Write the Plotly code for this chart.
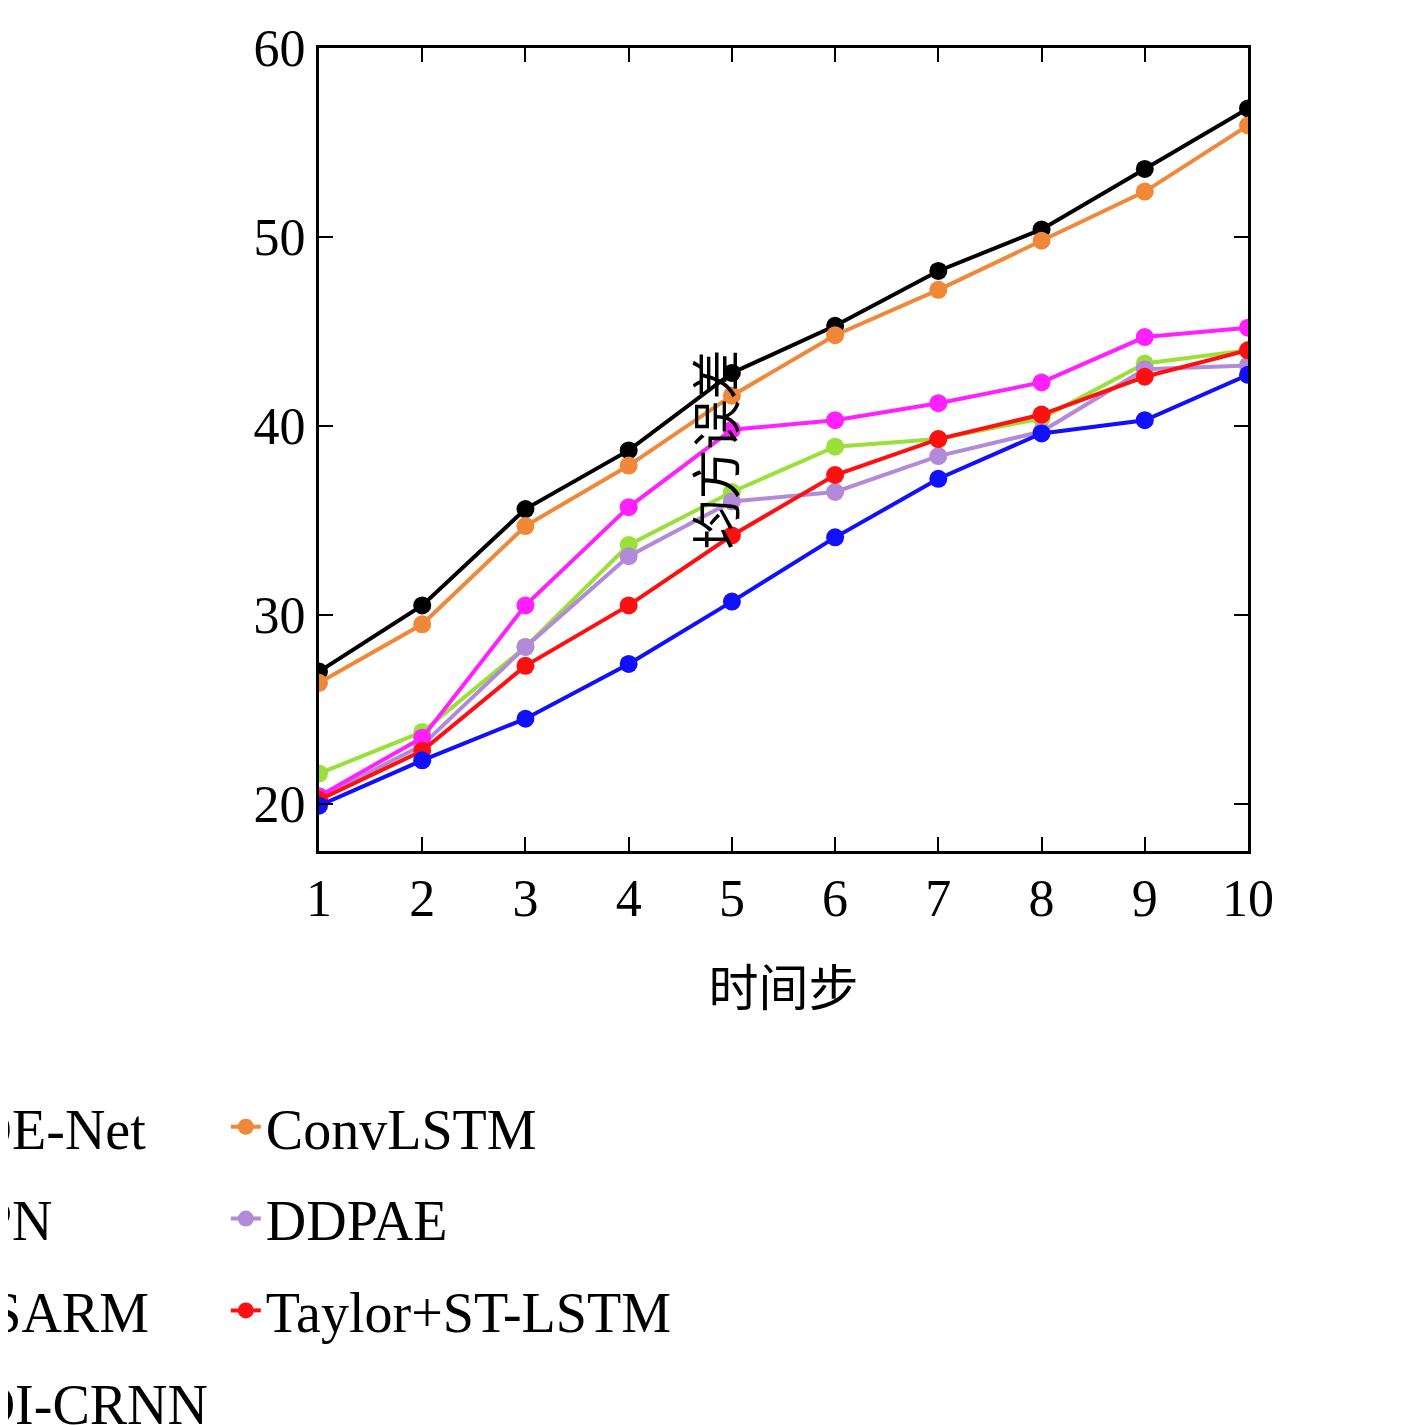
import plotly.graph_objects as go

steps = list(range(1, 11))
pde_net = [27.0, 30.5, 35.6, 38.7, 42.8, 45.3, 48.2, 50.4, 53.6, 56.8]
convlstm = [26.4, 29.5, 34.7, 37.9, 41.6, 44.8, 47.2, 49.8, 52.4, 55.9]
vpn = [21.6, 23.8, 28.3, 33.7, 36.5, 38.9, 39.3, 40.4, 43.3, 44.0]
ddpae = [20.3, 23.1, 28.3, 33.1, 36.0, 36.5, 38.4, 39.7, 43.0, 43.2]
msarm = [20.4, 23.5, 30.5, 35.7, 39.8, 40.3, 41.2, 42.3, 44.7, 45.2]
taylor = [20.2, 22.8, 27.3, 30.5, 34.2, 37.4, 39.3, 40.6, 42.6, 44.0]
tdi_crnn = [19.9, 22.3, 24.5, 27.4, 30.7, 34.1, 37.2, 39.6, 40.3, 42.7]

# name, values, colour, legend column
series = [
    ("PDE-Net", pde_net, "black", "legend"),
    ("ConvLSTM", convlstm, "#f0883a", "legend2"),
    ("VPN", vpn, "#9be03a", "legend"),
    ("DDPAE", ddpae, "#b38ad8", "legend2"),
    ("MSARM", msarm, "#ff1fff", "legend"),
    ("Taylor+ST-LSTM", taylor, "#ff1010", "legend2"),
    ("TDI-CRNN", tdi_crnn, "#1010ff", "legend"),
]

serif = "Liberation Serif, DejaVu Serif, serif"
cjk = "Noto Sans CJK SC"

fig = go.Figure()
for name, vals, color, leg in series:
    fig.add_trace(go.Scatter(x=steps, y=vals, name=name, mode="lines+markers",
                             legend=leg, legendgroup=name,
                             line=dict(color=color, width=4),
                             marker=dict(color=color, size=18)))

axis_common = dict(showgrid=False, zeroline=False, showline=True, linecolor="black",
                   linewidth=3, mirror="ticks", ticks="inside", ticklen=14,
                   tickwidth=2, tickcolor="black",
                   tickfont=dict(family=serif, size=52, color="black"))

fig.update_xaxes(range=[1, 10], tickvals=steps, **axis_common,
                 title=dict(text="时间步", font=dict(family=cjk, size=50, color="black"),
                            standoff=45))
fig.update_yaxes(range=[17.5, 60], tickvals=[20, 30, 40, 50, 60], **axis_common,
                 title=dict(text="均方误差", font=dict(family=cjk, size=50, color="black"),
                            standoff=40))

leg_common = dict(orientation="v", xref="container", yref="container",
                  yanchor="top", tracegroupgap=16,
                  font=dict(family=serif, size=56, color="black"),
                  bgcolor="rgba(0,0,0,0)")

fig.update_layout(
    width=1417, height=1425,
    plot_bgcolor="white", paper_bgcolor="white",
    margin=dict(l=311, r=177, t=40, b=582, autoexpand=False),
    showlegend=True,
    legend=dict(x=0.145, y=0.245, **leg_common),
    legend2=dict(x=0.472, y=0.245, **leg_common),
)

fig.write_html("out.html")
